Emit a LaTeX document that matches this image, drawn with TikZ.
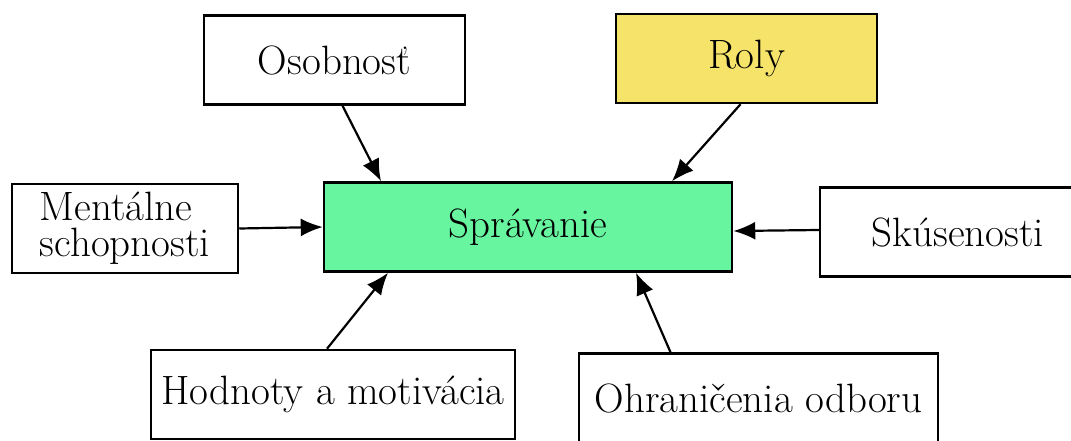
\documentclass[tikz,border=0pt]{standalone}
\usepackage{fontspec}
\usetikzlibrary{arrows.meta}
\definecolor{zelena}{RGB}{104,245,160}
\definecolor{zlta}{RGB}{246,228,106}
\begin{document}
\begin{tikzpicture}[x=1pt,y=-1pt,
    faktor/.style={draw=black,line width=2.5pt,fill=white,inner sep=0pt,
      minimum width=#1,minimum height=89pt,font=\fontsize{41}{36}\selectfont},
    sipka/.style={line width=2.2pt,-{Latex[length=22pt,width=18pt]}}]
    \useasboundingbox (0,0) rectangle (1071,441);
    \node[faktor=261pt] (osob) at (334.5,60) {Osobnosť};
    \node[faktor=261pt,fill=zlta] (roly) at (746.5,58.5) {Roly};
    \node[faktor=226pt,align=left] (ment) at (125,228.5) {Mentálne\\schopnosti};
    \node[faktor=408pt,fill=zelena] (sprav) at (528,227) {Správanie};
    \node[faktor=276pt] (skus) at (958,232) {Skúsenosti};
    \node[faktor=364pt] (hodn) at (333,394.5) {Hodnoty a motivácia};
    \node[faktor=359pt] (ohr) at (758.5,398) {Ohraničenia odboru};
    \draw[sipka] ([xshift=8pt]osob.south) -- ([xshift=-147pt]sprav.north);
    \draw[sipka] ([xshift=-6pt]roly.south) -- ([xshift=144pt]sprav.north);
    \draw[sipka] (ment.east) -- (sprav.west);
    \draw[sipka] ([yshift=2pt]skus.west) -- ([yshift=-4pt]sprav.east);
    \draw[sipka] ([xshift=-6pt]hodn.north) -- ([xshift=-140pt]sprav.south);
    \draw[sipka] ([xshift=-88pt]ohr.north) -- ([xshift=108pt]sprav.south);
\end{tikzpicture}
\end{document}
